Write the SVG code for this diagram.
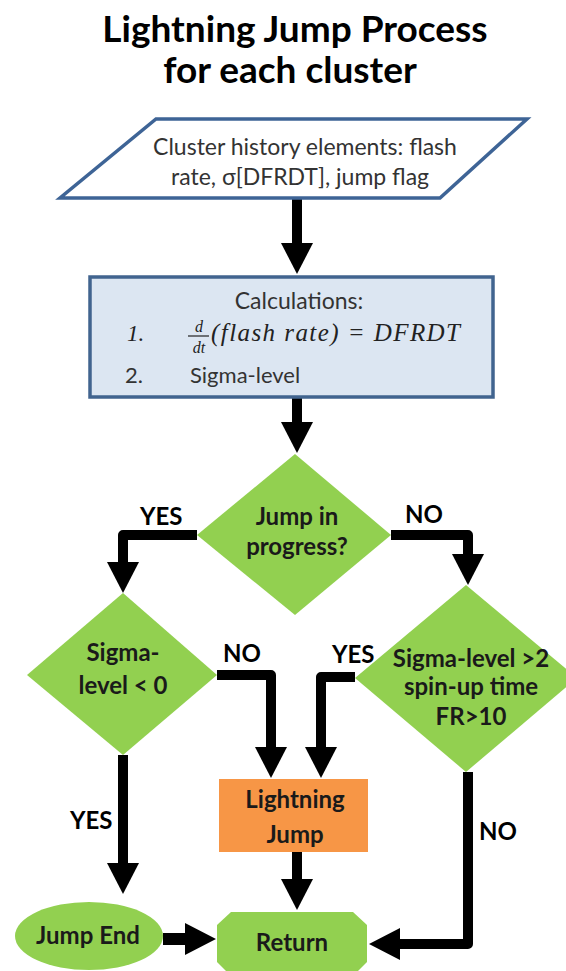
<svg xmlns="http://www.w3.org/2000/svg" width="566" height="971" viewBox="0 0 566 971">
<defs>
<style>
.t{font-family:Lato,"Open Sans","DejaVu Sans",sans-serif;}
.title{font-size:37px;font-weight:bold;fill:#000;text-anchor:middle;}
.box{font-size:23px;fill:#333;text-anchor:middle;}
.b{font-size:24px;font-weight:bold;fill:#1a1a1a;text-anchor:middle;}
.lbl{font-size:24px;font-weight:bold;fill:#000;}
.m{font-family:"Liberation Serif","DejaVu Serif",serif;font-style:italic;fill:#222;}
.g{fill:#92d050;}
.c{fill:none;stroke:#000;stroke-width:10;stroke-linejoin:round;marker-end:url(#ah);}
</style>
<marker id="ah" viewBox="0 0 31 32" refX="3" refY="16" markerWidth="31" markerHeight="32" markerUnits="userSpaceOnUse" orient="auto">
<path d="M0,0 L31,16 L0,32 Z" fill="#000"/>
</marker>
</defs>
<rect width="566" height="971" fill="#fff"/>
<g id="title" class="t">
<text class="title" x="295" y="42">Lightning Jump Process</text>
<text class="title" x="290" y="83">for each cluster</text>
</g>
<g id="connectors">
<path class="c" d="M297,199 V246"/>
<path class="c" d="M297,398 V425"/>
<path class="c" d="M197,535 H123 V565"/>
<path class="c" d="M391,535 H468 V557"/>
<path class="c" d="M217,675 H271 V750"/>
<path class="c" d="M355,677 H321 V750"/>
<path class="c" d="M123,755 V866"/>
<path class="c" d="M297,852 V882"/>
<path class="c" style="stroke-width:12" d="M163,939 H188"/>
<path class="c" d="M468,772 V944 H397"/>
</g>
<g id="input">
<polygon points="156,119 527,119 440,198 60,198" fill="#fff" stroke="#3e6496" stroke-width="3.5"/>
<text class="t box" x="305" y="155">Cluster history elements: flash</text>
<text class="t box" x="300" y="185">rate, σ[DFRDT], jump flag</text>
</g>
<g id="calc">
<rect x="90" y="277" width="403" height="120" fill="#dce6f2" stroke="#41648f" stroke-width="3.5"/>
<text class="t box" x="299" y="309">Calculations:</text>
<text class="m" x="127" y="341" font-size="23">1.</text>
<text class="m" x="199" y="332" font-size="16" text-anchor="middle">d</text>
<line x1="188" y1="336" x2="209" y2="336" stroke="#222" stroke-width="1.2"/>
<text class="m" x="199" y="353" font-size="16" text-anchor="middle">dt</text>
<text class="m" x="211" y="341" font-size="25" textLength="249" lengthAdjust="spacing">(flash rate) = DFRDT</text>
<text class="t" x="125" y="383" font-size="22" fill="#333">2.</text>
<text class="t" x="190" y="383" font-size="22" fill="#333">Sigma-level</text>
</g>
<g id="jump-in-progress">
<polygon class="g" points="295,454 391,535 295,615 197,535"/>
<text class="t b" x="297" y="525">Jump in</text>
<text class="t b" x="297" y="555">progress?</text>
</g>
<g id="sigma-lt0">
<polygon class="g" points="123,593 217,675 123,755 27,675"/>
<text class="t b" x="123" y="661">Sigma-</text>
<text class="t b" x="123" y="694">level &lt; 0</text>
</g>
<g id="sigma-gt2">
<polygon class="g" points="466,585 577,678 466,772 355,678"/>
<text class="t b" x="471" y="667" font-size="22.5">Sigma-level &gt;2</text>
<text class="t b" x="471" y="695" font-size="22.5">spin-up time</text>
<text class="t b" x="471" y="725" font-size="22.5">FR&gt;10</text>
</g>
<g id="lightning-jump">
<rect x="219" y="779" width="149" height="73" fill="#f79646"/>
<text class="t b" x="295" y="808" font-size="27">Lightning</text>
<text class="t b" x="295" y="843" font-size="27">Jump</text>
</g>
<g id="jump-end">
<ellipse class="g" cx="89" cy="936" rx="74" ry="34"/>
<text class="t b" x="88" y="944" font-size="26">Jump End</text>
</g>
<g id="return">
<polygon class="g" points="231,912 353,912 367,925 367,962 353,976 231,976 217,962 217,925"/>
<text class="t b" x="292" y="951" font-size="27">Return</text>
</g>
<g id="labels" class="t">
<text class="lbl" x="140" y="525">YES</text>
<text class="lbl" x="405" y="523">NO</text>
<text class="lbl" x="223" y="662">NO</text>
<text class="lbl" x="332" y="663">YES</text>
<text class="lbl" x="70" y="829">YES</text>
<text class="lbl" x="479" y="840">NO</text>
</g>
</svg>
